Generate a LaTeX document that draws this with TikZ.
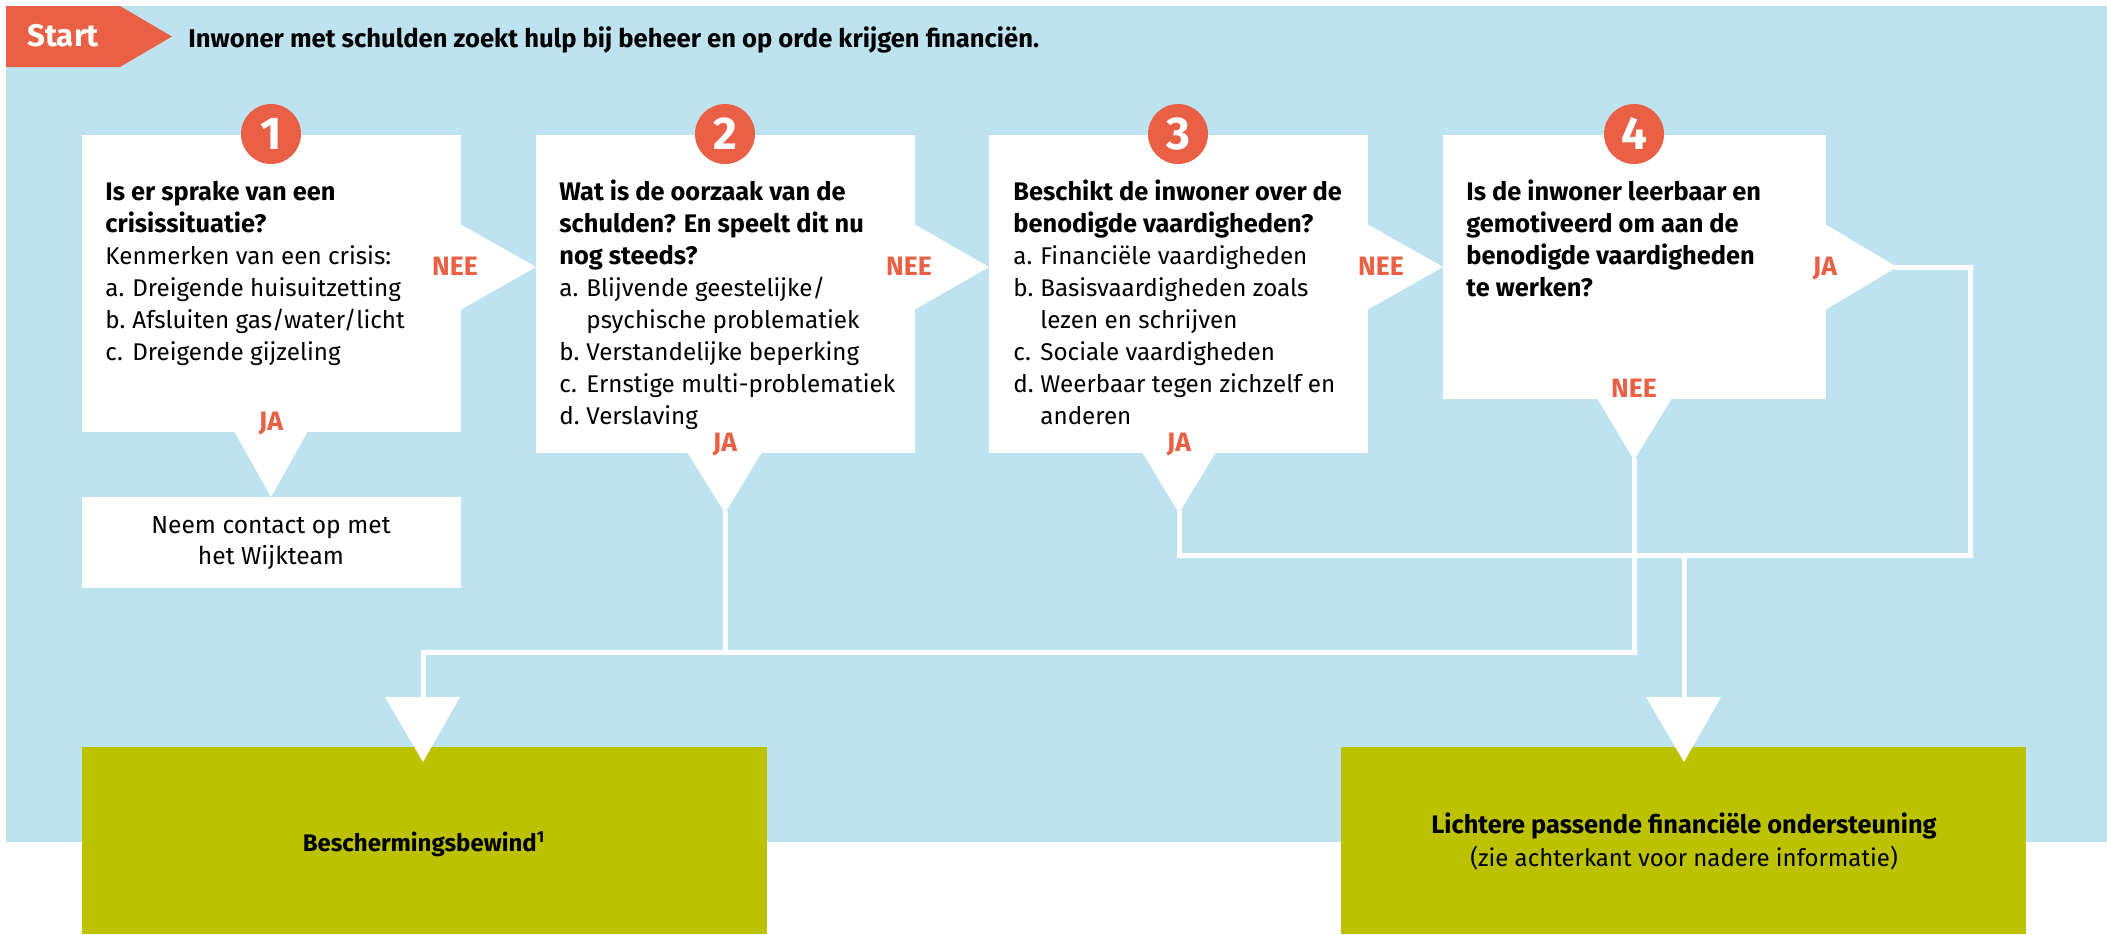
\documentclass[tikz,border=0pt]{standalone}
\usepackage{fontspec}
\setmainfont{Fira Sans}
\definecolor{bgblue}{HTML}{BEE3F0}
\definecolor{accent}{HTML}{EA6045}
\definecolor{olive}{HTML}{BCC200}
\newcommand{\itm}[2]{\makebox[13.5pt][l]{#1}#2}
\newcommand{\cnt}[1]{\hspace*{13.5pt}#1}
\newcommand{\qb}[1]{{\bfseries\fontsize{12.7pt}{16pt}\selectfont #1}}
\begin{document}
\begin{tikzpicture}[x=0.5pt,y=-0.5pt,
  whitebox/.style={fill=white, draw=none, inner sep=0, anchor=north west},
  greenbox/.style={fill=olive, draw=none, inner sep=0, anchor=north west, minimum width=342.5pt, minimum height=93.5pt},
  pointer/.style={fill=white, draw=none},
  conn/.style={draw=white, line width=2.5pt, line join=miter, line cap=rect},
  numc/.style={circle, fill=accent, text=white, inner sep=0, minimum size=30pt, font=\bfseries\fontsize{23pt}{24pt}\selectfont},
  lab/.style={text=accent, inner sep=0, anchor=base, font=\bfseries\fontsize{13.3pt}{14pt}\selectfont},
  qtext/.style={anchor=base west, inner sep=0, font=\fontsize{12.1pt}{16pt}\selectfont}
]
\useasboundingbox (0,0) rectangle (2107,934);
\fill[bgblue] (6,6) rectangle (2107,842);

% start tag
\fill[accent] (6,6) -- (120,6) -- (172,36.5) -- (120,67) -- (6,67) -- cycle;
\node[anchor=base, inner sep=0, text=white, font=\bfseries\fontsize{15.6pt}{16pt}\selectfont] (start) at (63,46) {Start};
\node[anchor=base west, inner sep=0, font=\bfseries\fontsize{12.8pt}{14pt}\selectfont] (title) at (188,47) {Inwoner met schulden zoekt hulp bij beheer en op orde krijgen financiën.};

% boxes
\node[whitebox, minimum width=189.5pt, minimum height=148.5pt] (b1) at (82,135) {};
\node[whitebox, minimum width=189.5pt, minimum height=159pt] (b2) at (536,135) {};
\node[whitebox, minimum width=189.5pt, minimum height=159pt] (b3) at (989,135) {};
\node[whitebox, minimum width=191.5pt, minimum height=132pt] (b4) at (1443,135) {};
\node[whitebox, minimum width=189.5pt, minimum height=45.5pt] (wt) at (82,497) {};
\node[greenbox] (g1) at (82,747) {};
\node[greenbox] (g2) at (1341,747) {};

% pointers
\fill[pointer] (460,224) -- (536,267) -- (460,310) -- cycle;
\fill[pointer] (914,224) -- (989,267) -- (914,310) -- cycle;
\fill[pointer] (1367,224) -- (1443,267) -- (1367,310) -- cycle;
\fill[pointer] (1825,224) -- (1897,267) -- (1825,310) -- cycle;
\fill[pointer] (234,431) -- (271,497) -- (308,431) -- cycle;
\fill[pointer] (687,452) -- (725,513) -- (762,452) -- cycle;
\fill[pointer] (1142,452) -- (1179,513) -- (1216,452) -- cycle;
\fill[pointer] (1597,398) -- (1634,460) -- (1672,398) -- cycle;

% connector coordinates
\coordinate (t2) at (725,513);
\coordinate (t3) at (1179,513);
\coordinate (t4b) at (1634,460);
\coordinate (t4r) at (1897,267);
\coordinate (j2) at (725,652);
\coordinate (c4) at (1634,652);
\coordinate (cL) at (423,652);
\coordinate (a1) at (423,700);
\coordinate (c3a) at (1179,555);
\coordinate (c3b) at (1970,555);
\coordinate (c3c) at (1970,267);
\coordinate (j3) at (1684,555);
\coordinate (a2) at (1684,700);

\draw[conn] (t2) -- (j2);
\draw[conn] (t4b) -- (c4) -- (cL) -- (a1);
\draw[conn] (t3) -- (c3a) -- (c3b) -- (c3c) -- (t4r);
\draw[conn] (j3) -- (a2);

% arrowheads
\fill[pointer] (385,697) -- (423,762) -- (460,697) -- cycle;
\fill[pointer] (1646,697) -- (1684,762) -- (1721,697) -- cycle;

% number circles
\node[numc] (n1) at (271,134) {1};
\node[numc] (n2) at (725,134) {2};
\node[numc] (n3) at (1178,134) {3};
\node[numc] (n4) at (1634,134) {4};

% texts
\node[qtext] (q1) at (105,200) {\parbox[t]{260pt}{\raggedright
\qb{Is er sprake van een}\\
\qb{crisissituatie?}\\
Kenmerken van een crisis:\\
\itm{a.}{Dreigende huisuitzetting}\\
\itm{b.}{Afsluiten gas/water/licht}\\
\itm{c.}{Dreigende gijzeling}}};

\node[qtext] (q2) at (559,200) {\parbox[t]{260pt}{\raggedright
\qb{Wat is de oorzaak van de}\\
\qb{schulden? En speelt dit nu}\\
\qb{nog steeds?}\\
\itm{a.}{Blijvende geestelijke/}\\
\cnt{psychische problematiek}\\
\itm{b.}{Verstandelijke beperking}\\
\itm{c.}{Ernstige multi-problematiek}\\
\itm{d.}{Verslaving}}};

\node[qtext] (q3) at (1013,200) {\parbox[t]{260pt}{\raggedright
\qb{Beschikt de inwoner over de}\\
\qb{benodigde vaardigheden?}\\
\itm{a.}{Financiële vaardigheden}\\
\itm{b.}{Basisvaardigheden zoals}\\
\cnt{lezen en schrijven}\\
\itm{c.}{Sociale vaardigheden}\\
\itm{d.}{Weerbaar tegen zichzelf en}\\
\cnt{anderen}}};

\node[qtext] (q4) at (1466,200) {\parbox[t]{260pt}{\raggedright
\qb{Is de inwoner leerbaar en}\\
\qb{gemotiveerd om aan de}\\
\qb{benodigde vaardigheden}\\
\qb{te werken?}}};

% labels
\node[lab] (l1n) at (455,275) {NEE};
\node[lab] (l1j) at (271,430) {JA};
\node[lab] (l2n) at (909,275) {NEE};
\node[lab] (l2j) at (725,451) {JA};
\node[lab] (l3n) at (1381,275) {NEE};
\node[lab] (l3j) at (1179,451) {JA};
\node[lab] (l4j) at (1825,275) {JA};
\node[lab] (l4n) at (1634,397) {NEE};

% Wijkteam text
\node[anchor=base, inner sep=0, font=\fontsize{12.3pt}{15.5pt}\selectfont] (wtt) at (271,533) {\parbox[t]{180pt}{\centering Neem contact op met\\het Wijkteam}};

% green texts
\node[anchor=base, inner sep=0, font=\bfseries\fontsize{12pt}{14pt}\selectfont] (g1t) at (424,851) {Beschermingsbewind\textsuperscript{1}};
\node[anchor=base, inner sep=0, font=\bfseries\fontsize{12.7pt}{14pt}\selectfont] (g2t) at (1684,833) {Lichtere passende financiële ondersteuning};
\node[anchor=base, inner sep=0, font=\fontsize{12pt}{14pt}\selectfont] (g2s) at (1684,866) {(zie achterkant voor nadere informatie)};
\end{tikzpicture}
\end{document}
